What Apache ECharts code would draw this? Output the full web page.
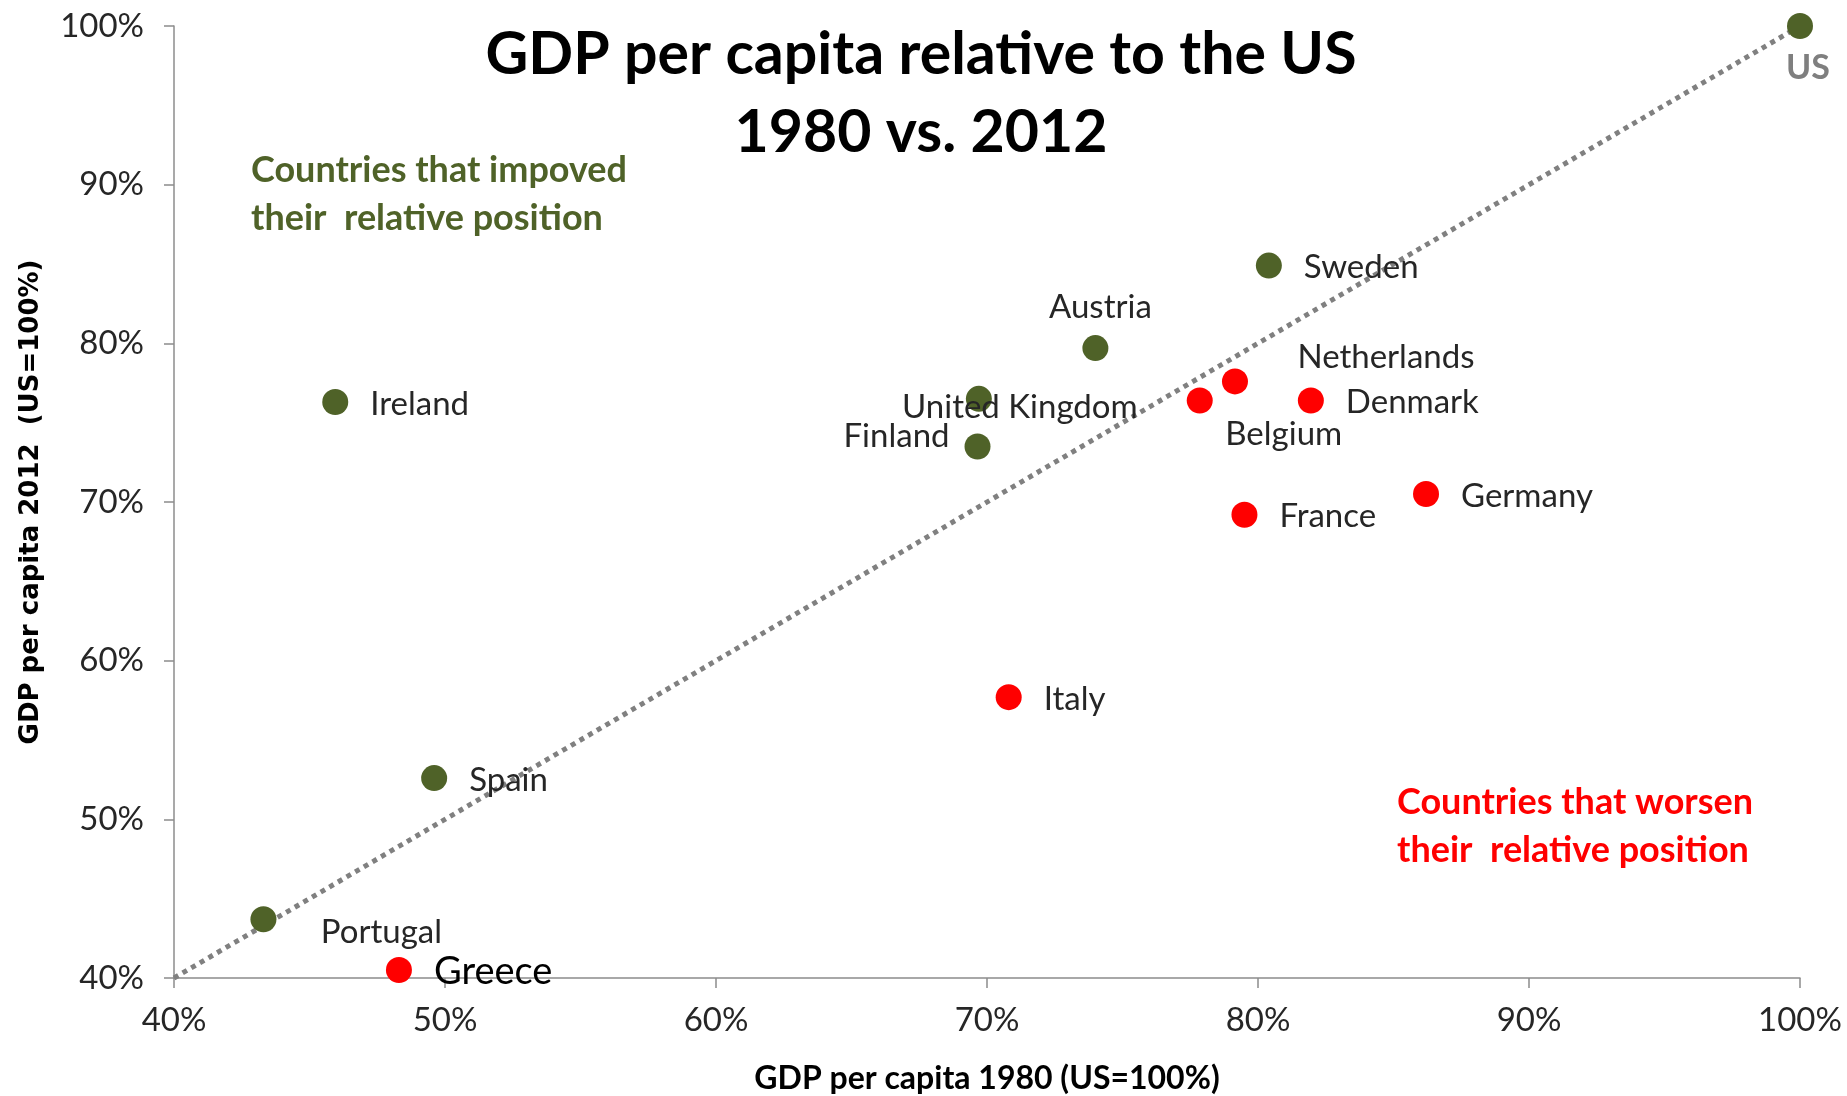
<!DOCTYPE html>
<html>
<head>
<meta charset="utf-8">
<script src="https://cdn.jsdelivr.net/npm/echarts@6/dist/echarts.min.js"></script>
<style>
  html, body { margin: 0; padding: 0; background: #fff; }
  #chart { width: 1847px; height: 1096px; }
</style>
</head>
<body>
<div id="chart"></div>
<script>
// values are % of US GDP per capita
const countries = ['US', 'Sweden', 'Austria', 'United Kingdom', 'Finland', 'Ireland', 'Spain', 'Portugal',
  'Greece', 'Belgium', 'Netherlands', 'Denmark', 'Germany', 'France', 'Italy']
const gdp1980 = [100, 80.4, 74.0, 69.7, 69.65, 45.95, 49.6, 43.3, 48.3, 77.85, 79.15, 81.95, 86.2, 79.5, 70.8]
const gdp2012 = [100, 84.9, 79.7, 76.5, 73.5, 76.3, 52.6, 43.7, 40.5, 76.4, 77.6, 76.4, 70.5, 69.2, 57.7]
const improved = [true, true, true, true, true, true, true, true, false, false, false, false, false, false, false]
const diagonal = [[40, 40], [100, 100]]
const ticks = [40, 50, 60, 70, 80, 90, 100]

const GREEN = '#4f6228'
const RED = '#ff0000'
const FONT = 'Lato'

// label placement per country
const labelPos = {
  'US': { position: 'inside', offset: [8, 42], color: '#7f7f7f', fontWeight: 'bold', fontSize: 34 },
  'Austria': { position: 'inside', offset: [5, -41] },
  'United Kingdom': { position: 'inside', offset: [41, 8] },
  'Finland': { position: 'inside', offset: [-81, -10] },
  'Portugal': { position: 'inside', offset: [118, 13] },
  'Belgium': { position: 'inside', offset: [84, 34] },
  'Netherlands': { position: 'inside', offset: [151, -24] },
  'Greece': { color: '#000', fontSize: 38 }
}

function points(flag) {
  const out = []
  countries.forEach((name, i) => {
    if (improved[i] !== flag) return
    const item = { name: name, value: [gdp1980[i], gdp2012[i]] }
    if (labelPos[name]) item.label = labelPos[name]
    out.push(item)
  })
  return out
}

const pointLabel = {
  show: true,
  position: 'right',
  distance: 22,
  offset: [0, 2],
  formatter: '{b}',
  color: '#262626',
  fontFamily: FONT,
  fontSize: 33
}

const axisCommon = {
  type: 'value',
  min: ticks[0],
  max: ticks[ticks.length - 1],
  interval: 10,
  splitLine: { show: false },
  axisLine: { show: true, lineStyle: { color: '#8c8c8c', width: 1.5 } },
  axisTick: { show: true, inside: false, length: 10, lineStyle: { color: '#8c8c8c', width: 1.5 } },
  axisLabel: { formatter: '{value}%', color: '#262626', fontFamily: FONT, fontSize: 33 },
  nameLocation: 'middle',
  nameTextStyle: { color: '#000', fontWeight: 'bold', fontFamily: FONT, fontSize: 32 }
}

const chart = echarts.init(document.getElementById('chart'))
chart.setOption({
  backgroundColor: '#fff',
  animation: false,
  grid: { left: 174, right: 47, top: 26, bottom: 118, outerBoundsMode: 'none' },
  xAxis: Object.assign({}, axisCommon, {
    name: 'GDP per capita 1980 (US=100%)',
    nameGap: 85,
    axisLabel: Object.assign({}, axisCommon.axisLabel, { margin: 26 })
  }),
  yAxis: Object.assign({}, axisCommon, {
    name: 'GDP per capita 2012  (US=100%)',
    nameGap: 130,
    nameTextStyle: { color: '#000', fontWeight: 'bold', fontFamily: 'DejaVu Sans', fontSize: 26 },
    axisLabel: Object.assign({}, axisCommon.axisLabel, { margin: 30 })
  }),
  graphic: [
    {
      type: 'text', x: 921, y: 16,
      style: {
        text: 'GDP per capita relative to the US\n1980 vs. 2012',
        font: 'bold 59px ' + FONT, fill: '#000', align: 'center', verticalAlign: 'top', lineHeight: 78
      }
    },
    {
      type: 'text', x: 251, y: 146,
      style: {
        text: 'Countries that impoved\ntheir  relative position',
        font: 'bold 36px ' + FONT, fill: GREEN, lineHeight: 48, verticalAlign: 'top'
      }
    },
    {
      type: 'text', x: 1397, y: 778,
      style: {
        text: 'Countries that worsen\ntheir  relative position',
        font: 'bold 36px ' + FONT, fill: RED, lineHeight: 48, verticalAlign: 'top'
      }
    }
  ],
  series: [
    {
      type: 'line',
      data: diagonal,
      symbol: 'none',
      silent: true,
      z: 1,
      lineStyle: { color: '#808080', width: 5, type: [5, 5], cap: 'butt' }
    },
    {
      type: 'scatter',
      data: points(true),
      symbolSize: 26,
      z: 3,
      itemStyle: { color: GREEN, opacity: 1 },
      label: pointLabel
    },
    {
      type: 'scatter',
      data: points(false),
      symbolSize: 26,
      z: 3,
      itemStyle: { color: RED, opacity: 1 },
      label: pointLabel
    }
  ]
})
</script>
</body>
</html>
